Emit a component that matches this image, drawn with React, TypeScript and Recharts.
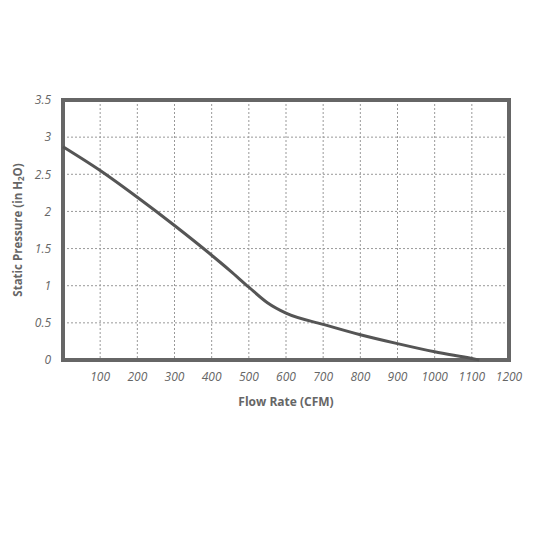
import React from "react";
import { LineChart, Line, XAxis, YAxis, CartesianGrid, ReferenceArea } from "recharts";

const flowRate = [0, 100, 200, 300, 400, 450, 500, 550, 600, 700, 800, 900, 1000, 1100, 1120];
const pressure = [2.87, 2.55, 2.19, 1.81, 1.41, 1.2, 0.98, 0.77, 0.63, 0.48, 0.34, 0.22, 0.11, 0.02, 0];
const xTicks = [100, 200, 300, 400, 500, 600, 700, 800, 900, 1000, 1100, 1200];
const yTicks = [0, 0.5, 1, 1.5, 2, 2.5, 3, 3.5];

const data = flowRate.map((f, i) => ({ flow: f, pressure: pressure[i] }));

const FONT = "'Open Sans', 'Noto Sans', sans-serif";
const GREY = "#666";

const YLabel = (props: any) => {
  const vb = props.viewBox || {};
  const cx = 9;
  const cy = vb.y + vb.height / 2;
  return (
    <text
      x={cx}
      y={cy}
      transform={`rotate(-90, ${cx}, ${cy})`}
      textAnchor="middle"
      dominantBaseline="central"
      fontFamily={FONT}
      fontWeight={700}
      fontSize={11.5}
      fill={GREY}
    >
      Static Pressure (in H
      <tspan fontSize={8} dy={3}>2</tspan>
      <tspan dy={-3}>O)</tspan>
    </text>
  );
};

export default function App() {
  return (
    <div style={{ width: 525, height: 525 }}>
      <LineChart
        width={533}
        height={525}
        data={data}
        margin={{ top: 92, right: 32, bottom: 113, left: 15 }}
      >
        <CartesianGrid stroke="#999" strokeDasharray="2 2" strokeWidth={1} />
        <XAxis
          dataKey="flow"
          type="number"
          domain={[0, 1200]}
          ticks={xTicks}
          axisLine={false}
          tickLine={false}
          height={60}
          tickMargin={6}
          tick={{ fill: GREY, fontSize: 12, fontStyle: "italic", fontFamily: FONT }}
          label={{
            value: "Flow Rate (CFM)",
            position: "insideTop",
            offset: 37,
            fill: GREY,
            fontSize: 12,
            fontWeight: 700,
            fontFamily: FONT,
          }}
        />
        <YAxis
          type="number"
          domain={[0, 3.5]}
          ticks={yTicks}
          axisLine={false}
          tickLine={false}
          width={40}
          tickMargin={6}
          tick={{ fill: GREY, fontSize: 12, fontStyle: "italic", fontFamily: FONT }}
          label={<YLabel />}
        />
        <Line
          type="monotone"
          dataKey="pressure"
          stroke="#555"
          strokeWidth={3}
          dot={false}
          isAnimationActive={false}
        />
        <ReferenceArea
          x1={0}
          x2={1200}
          y1={0}
          y2={3.5}
          fill="none"
          fillOpacity={0}
          stroke={GREY}
          strokeWidth={4}
          isAnimationActive={false}
        />
      </LineChart>
    </div>
  );
}
